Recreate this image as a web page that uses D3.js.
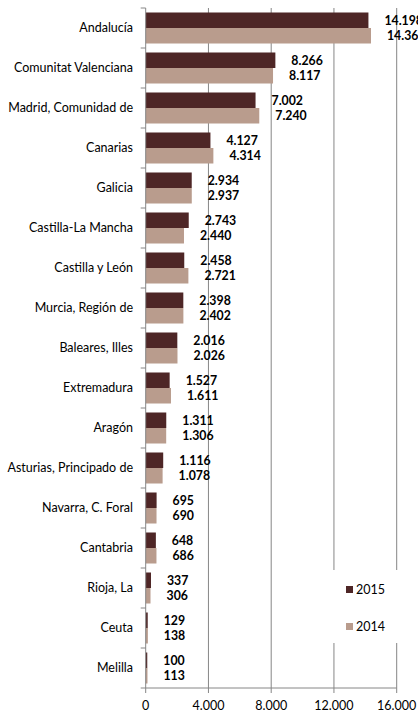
<!DOCTYPE html>
<html><head><meta charset="utf-8">
<script src="https://cdn.jsdelivr.net/npm/d3@7"></script>
<style>html,body{margin:0;padding:0;background:#fff;}svg{display:block;}</style>
</head><body>
<script>
const categories = ["Andalucía","Comunitat Valenciana","Madrid, Comunidad de","Canarias","Galicia","Castilla-La Mancha","Castilla y León","Murcia, Región de","Baleares, Illes","Extremadura","Aragón","Asturias, Principado de","Navarra, C. Foral","Cantabria","Rioja, La","Ceuta","Melilla"];
const values2015 = [14198,8266,7002,4127,2934,2743,2458,2398,2016,1527,1311,1116,695,648,337,129,100];
const values2014 = [14361,8117,7240,4314,2937,2440,2721,2402,2026,1611,1306,1078,690,686,306,138,113];
const seriesNames = ["2015","2014"];
const tickValues = [0,4000,8000,12000,16000];
const tickLabels = ["0","4.000","8.000","12.000","16.000"];

const W=418,H=712;
const colors={"2015":"#4e2626","2014":"#b99c8d"};
const axisColor="#868686";
const font="Lato, 'Open Sans', sans-serif";
const svg=d3.select("body").append("svg").attr("width",W).attr("height",H);

const x=d3.scaleLinear().domain([0,16000]).range([145.7,396.7]);
const y=d3.scaleBand().domain(categories).range([8,688]).padding(0);
const ys=d3.scaleBand().domain(seriesNames).range([0,y.bandwidth()]).paddingOuter(0.29).paddingInner(0);
const fmt=v=>d3.format(",")(v).replace(/,/g,".");

// gridlines
svg.append("g").selectAll("line").data(tickValues.slice(1)).join("line")
 .attr("x1",d=>x(d)).attr("x2",d=>x(d)).attr("y1",8).attr("y2",688)
 .attr("stroke",axisColor).attr("stroke-width",1);

const data=categories.map((c,i)=>({c,v:{"2015":values2015[i],"2014":values2014[i]}}));
const g=svg.append("g");
seriesNames.forEach(s=>{
  g.selectAll(null).data(data).join("rect")
   .attr("x",x(0)).attr("y",d=>y(d.c)+ys(s))
   .attr("width",d=>x(d.v[s])-x(0)).attr("height",ys.bandwidth())
   .attr("fill",colors[s]);
  g.selectAll(null).data(data).join("text")
   .attr("x",d=>x(d.v[s])+16).attr("y",d=>y(d.c)+ys(s)+ys.bandwidth()/2)
   .attr("dy","0.35em").attr("font-family",font).attr("font-weight","bold")
   .attr("font-size","12.3px").attr("fill","#000").text(d=>fmt(d.v[s]));
});

// left axis
const la=svg.append("g").attr("stroke",axisColor);
la.append("line").attr("x1",x(0)).attr("x2",x(0)).attr("y1",8).attr("y2",688);
const bounds=categories.map(c=>y(c)).concat([688]);
la.selectAll(null).data(bounds).join("line")
 .attr("x1",x(0)-5).attr("x2",x(0)).attr("y1",d=>d).attr("y2",d=>d);
svg.append("g").selectAll("text").data(categories).join("text")
 .attr("x",133).attr("y",d=>y(d)+y.bandwidth()/2).attr("dy","0.35em")
 .attr("text-anchor","end").attr("font-family",font).attr("font-size","12.5px")
 .attr("fill","#000").text(d=>d);

// bottom axis
const ba=svg.append("g").attr("stroke",axisColor);
ba.append("line").attr("x1",x(0)).attr("x2",x(16000)).attr("y1",688).attr("y2",688);
ba.selectAll(null).data(tickValues).join("line")
 .attr("x1",d=>x(d)).attr("x2",d=>x(d)).attr("y1",688).attr("y2",693);
svg.append("g").selectAll("text").data(tickValues).join("text")
 .attr("x",d=>x(d)).attr("y",706).attr("dy","0.35em").attr("text-anchor","middle")
 .attr("font-family",font).attr("font-size","12.5px").attr("fill","#000")
 .text((d,i)=>tickLabels[i]);

// legend
svg.append("rect").attr("x",330).attr("y",570).attr("width",76).attr("height",73).attr("fill","#fff");
const leg=svg.append("g").selectAll("g").data(seriesNames).join("g")
 .attr("transform",(d,i)=>`translate(346,${589.5+i*37})`);
leg.append("rect").attr("x",0).attr("y",-3.5).attr("width",7).attr("height",7).attr("fill",d=>colors[d]);
leg.append("text").attr("x",10).attr("y",0).attr("dy","0.35em").attr("font-family",font)
 .attr("font-size","12.5px").attr("fill","#000").text(d=>d);
</script>
</body></html>
